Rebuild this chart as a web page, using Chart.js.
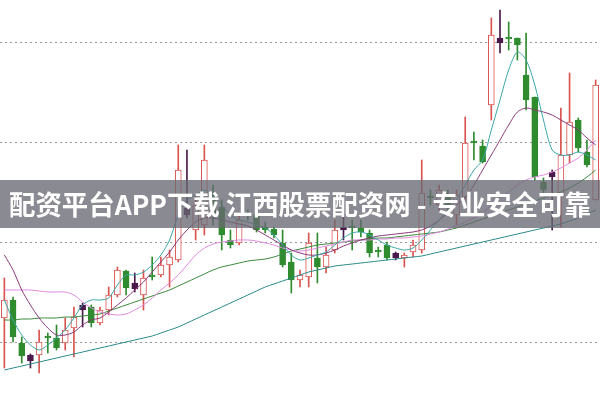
<!DOCTYPE html>
<html><head><meta charset="utf-8">
<script src="https://cdn.jsdelivr.net/npm/chart.js@4"></script>
<style>html,body{margin:0;padding:0;background:#fff}#w{width:600px;height:400px}</style>
</head><body><div id="w"><canvas id="c"></canvas></div>
<script>
// price values expressed on a reversed scale (0 top .. 400 bottom)
const opens =[318,300,343,355,355,338,338,343,328,310,307,323,310,295,271,289,295,277,275,265,260,208,230,225,195,207,240,243,215,215,227,229,243,262,280,277,258,267,250,227,228,228,233,252,245,253,258,252,250,198,205,195,215,197,143,146,105,38,39,38,75,97,182,172,197,155,120,152,200];
const closes=[300,337,356,361,342,338,348,330,317,305,323,310,295,270,288,283,278,277,265,257,170,215,205,160,215,235,245,220,215,230,230,235,265,280,275,243,267,255,230,230,228,232,253,252,258,258,255,245,193,198,190,205,195,143,143,162,35,43,39,45,100,177,190,177,155,122,148,165,85];
const highs =[278,297,337,354,330,333,325,318,307,303,305,307,287,267,270,273,270,257,257,250,145,150,195,145,185,200,230,213,210,213,222,227,230,253,270,233,233,247,220,213,220,220,230,247,242,252,253,240,160,190,185,190,190,117,132,140,18,10,22,38,33,97,178,170,108,73,118,140,80];
const lows  =[368,342,363,368,373,353,350,350,357,327,327,325,315,297,295,292,310,280,277,287,262,218,240,235,225,250,248,245,220,232,233,238,267,293,287,287,283,273,253,240,250,237,257,257,260,260,267,257,253,205,210,210,225,200,160,163,120,53,50,60,110,180,193,230,227,163,152,167,200];
const darkIdx=[3,9,15,21,39,45,57,63];
const maFast=[300,320,335,345,350,345,338,330,318,305,300,300,298,285,275,275,272,265,255,240,215,200,195,190,195,205,215,220,222,225,228,235,245,255,260,258,255,252,245,238,233,232,235,240,245,248,250,248,240,230,220,210,200,185,170,160,130,100,70,52,60,85,120,150,155,155,152,155,160];
const maMid =[255,270,290,305,318,328,335,335,332,325,320,318,312,305,298,290,282,272,262,252,240,230,222,218,218,220,222,224,226,230,235,240,245,250,253,255,255,253,250,246,243,240,238,236,235,234,233,232,230,226,220,213,205,198,185,170,155,140,125,112,108,110,112,115,120,125,130,138,145];
const maSlow=[290,290,290,290,291,292,292,292,295,302,308,312,314,315,314,310,305,298,290,283,275,265,255,248,244,242,241,240,240,241,243,245,248,250,251,250,248,246,244,242,240,240,240,239,239,238,238,237,236,234,232,229,226,222,218,213,205,198,192,185,180,177,175,172,168,163,158,150,140];
const ma30  =[320,320,319,319,318,318,318,317,317,316,315,314,311,308,305,302,299,296,293,290,286,282,278,274,270,267,265,263,261,260,259,257,254,251,249,247,245,244,243,242,241,240,239,238,238,237,236,235,234,233,232,230,228,225,222,219,216,213,210,207,204,201,198,195,192,188,183,177,170];
const ma60  =[370,368,366,364,362,360,358,356,354,352,350,348,346,344,342,340,338,336,333,330,327,323,319,315,311,307,303,299,295,291,287,284,281,278,275,272,270,268,266,265,264,263,262,261,260,259,258,257,256,254,252,250,248,246,244,242,240,238,236,234,232,230,228,226,224,221,218,214,210];
const gridLevels=[42,142,242,342];
const labels=opens.map((_,i)=>String(i+1));
const bodies=opens.map((o,i)=>[o,closes[i]]);
const wicks=opens.map((o,i)=>[lows[i],highs[i]]);
const isUp=i=>closes[i]<opens[i];
const col=i=>darkIdx.includes(i)?'#4a1a4a':(isUp(i)?'#d9534f':'#2e8b2e');
const banner={id:'banner',afterDraw(ch){const c=ch.ctx;c.save();c.fillStyle='rgba(105,105,115,0.78)';c.fillRect(0,180,600,48);
c.fillStyle='#fff';c.font='bold 27px "Noto Sans CJK SC", sans-serif';c.textAlign='center';c.textBaseline='middle';
c.fillText('配资平台APP下载 江西股票配资网 - 专业安全可靠',300,205,582);c.restore();}};
const line=(d,color)=>({type:'line',data:d,borderColor:color,borderWidth:1,pointRadius:0,tension:0.3,order:0});
new Chart(document.getElementById('c'),{
 data:{labels,datasets:[
  line(maFast,'#3aa6a6'),line(maMid,'#8a3a7a'),line(maSlow,'#e08ae0'),line(ma30,'#3a8a3a'),line(ma60,'#2a8a8a'),
  {type:'bar',data:bodies,backgroundColor:opens.map((_,i)=>darkIdx.includes(i)?'#4a1a4a':(isUp(i)?'#fff':'#2e8b2e')),borderColor:opens.map((_,i)=>col(i)),borderWidth:1,borderSkipped:false,barThickness:6,grouped:false,order:1,minBarLength:2},
  {type:'bar',data:wicks,backgroundColor:opens.map((_,i)=>col(i)),barThickness:1,grouped:false,order:2}
 ]},
 options:{animation:false,responsive:true,maintainAspectRatio:false,layout:{padding:0},
  plugins:{legend:{display:false},tooltip:{enabled:false}},
  scales:{x:{display:false,offset:true},
   y:{reverse:true,min:0,max:400,afterBuildTicks(a){a.ticks=gridLevels.map(v=>({value:v}));},
    ticks:{display:false},border:{display:false,dash:[2,3]},grid:{color:'#999',drawTicks:false,tickLength:0}}}},
 plugins:[banner]
});
</script></body></html>
